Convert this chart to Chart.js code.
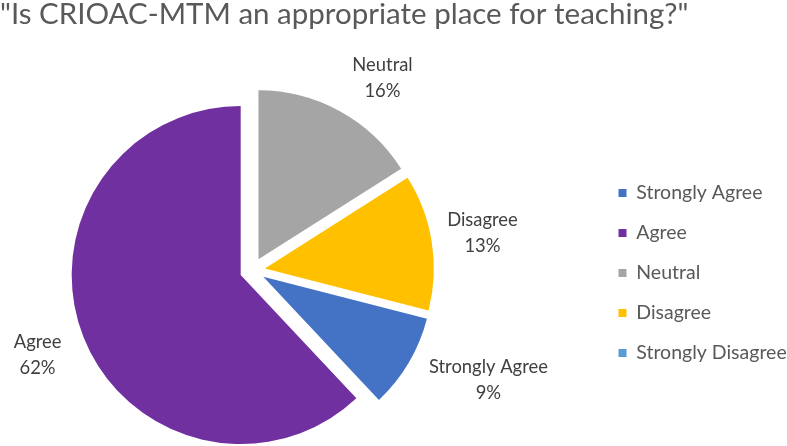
<!DOCTYPE html>
<html><head><meta charset="utf-8">
<script src="https://cdn.jsdelivr.net/npm/chart.js@4/dist/chart.umd.min.js"></script>
<style>html,body{margin:0;padding:0;background:#fff;overflow:hidden}#wrap{width:787px;height:446px}</style>
</head><body><div id="wrap"><canvas id="c" width="787" height="446"></canvas></div>
<script>
// ---- data ----
const chartTitle = '"Is CRIOAC-MTM an appropriate place for teaching?"';
const categories = ['Strongly Agree', 'Agree', 'Neutral', 'Disagree', 'Strongly Disagree'];
const percentValues = [9, 62, 16, 13, 0];

// ---- style ----
const sliceColors = ['#4472C4', '#7030A0', '#A5A5A5', '#FFC000', '#5B9BD5'];
const FONT = 'Lato';
const LABEL_SIZE = 18.4, LEGEND_SIZE = 19.5, TITLE_SIZE = 29.5, LINE_GAP = 26;
const PIE_RADIUS = 169, EXPLODE = 12.6, PIE_CX = 252.4, PIE_CY = 270.4;
const LEGEND_LEFT = 598, LEGEND_PAD = 20.5, LEGEND_BOX = 8, LEGEND_DY = 50;
const LABEL_NUDGE = [[79.7, 17.2], [-46, 17.8], [42.6, -33.3], [50.7, -8.6], [0, 0]];

const total = percentValues.reduce((a, b) => a + b, 0);
// Agree ends at 12 o'clock (as in the reference)
const startRotation = 360 * (1 - (percentValues[0] + percentValues[1]) / total);

const placePie = {
  id: 'placePie',
  afterLayout(chart) {
    const ca = chart.chartArea;
    const hw = (ca.right - ca.left) / 2, hh = (ca.bottom - ca.top) / 2;
    ca.left = PIE_CX - hw; ca.right = PIE_CX + hw;
    ca.top = PIE_CY - hh; ca.bottom = PIE_CY + hh;
    const L = chart.legend;
    if (L) {
      const w = L.right - L.left;
      L.left = LEGEND_LEFT; L.right = LEGEND_LEFT + w;
      L.top += LEGEND_DY; L.bottom += LEGEND_DY;
    }
  }
};

const explode = {
  id: 'explode',
  afterDatasetsUpdate(chart) {
    chart.getDatasetMeta(0).data.forEach(arc => {
      const mid = (arc.startAngle + arc.endAngle) / 2;
      arc.x += Math.cos(mid) * EXPLODE;
      arc.y += Math.sin(mid) * EXPLODE;
    });
  }
};

const sliceLabels = {
  id: 'sliceLabels',
  afterDatasetsDraw(chart) {
    const ctx = chart.ctx;
    ctx.save();
    ctx.font = LABEL_SIZE + 'px ' + FONT;
    ctx.fillStyle = '#404040';
    ctx.textAlign = 'center';
    ctx.textBaseline = 'middle';
    chart.getDatasetMeta(0).data.forEach((arc, i) => {
      const v = percentValues[i];
      if (!v) return;
      const mid = (arc.startAngle + arc.endAngle) / 2;
      const cx = arc.x + Math.cos(mid) * arc.outerRadius + LABEL_NUDGE[i][0];
      const cy = arc.y + Math.sin(mid) * arc.outerRadius + LABEL_NUDGE[i][1];
      ctx.fillText(categories[i], cx, cy - LINE_GAP / 2);
      ctx.fillText(Math.round(v / total * 100) + '%', cx, cy + LINE_GAP / 2);
    });
    ctx.restore();
  }
};

Chart.defaults.font.family = FONT;

new Chart(document.getElementById('c'), {
  type: 'pie',
  data: {
    labels: categories,
    datasets: [{
      data: percentValues,
      backgroundColor: sliceColors,
      borderWidth: 0
    }]
  },
  options: {
    responsive: false,
    animation: false,
    radius: PIE_RADIUS,
    rotation: startRotation,
    layout: { padding: 0 },
    plugins: {
      title: {
        display: true,
        text: chartTitle,
        align: 'start',
        color: '#595959',
        font: { family: FONT, size: TITLE_SIZE, weight: 'normal', lineHeight: 1 },
        padding: { top: 0, bottom: 71 }
      },
      legend: {
        position: 'right',
        align: 'center',
        labels: {
          boxWidth: LEGEND_BOX,
          boxHeight: LEGEND_BOX,
          padding: LEGEND_PAD,
          color: '#595959',
          font: { family: FONT, size: LEGEND_SIZE }
        }
      },
      tooltip: { enabled: false }
    }
  },
  plugins: [placePie, explode, sliceLabels]
});
</script>
</body></html>
